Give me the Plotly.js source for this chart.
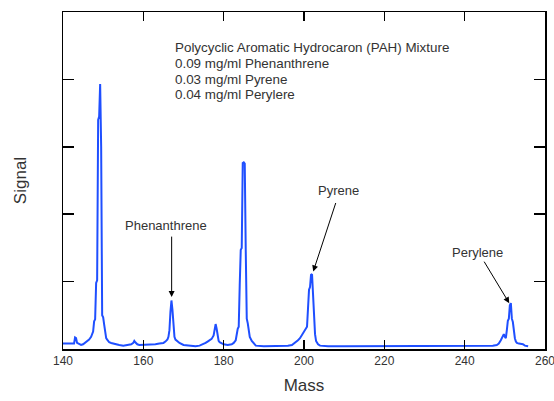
<!DOCTYPE html>
<html>
<head>
<meta charset="utf-8">
<script src="https://cdn.plot.ly/plotly-3.0.1.min.js"></script>
<style>html,body{margin:0;padding:0;background:#fff;}#chart{width:554px;height:401px;}</style>
</head>
<body>
<div id="chart"></div>
<script>
// Mass (x) values of the spectrum trace
const mass = [
140.0,141.0,142.0,142.75,143.0,143.25,143.5,144.0,144.5,145.0,145.5,146.0,146.5,147.0,147.5,147.75,148.0,148.25,148.5,148.75,
149.0,149.25,149.5,149.75,150.0,150.25,150.5,150.75,151.0,151.5,152.0,153.0,154.0,155.0,156.0,157.0,157.5,157.75,158.0,158.5,
159.0,160.0,161.0,162.0,163.0,164.0,165.0,165.5,166.0,166.25,166.5,166.75,167.0,167.25,167.5,167.75,168.0,168.5,169.0,170.0,
171.0,172.0,173.0,174.0,175.0,175.5,176.0,176.5,177.0,177.5,177.75,178.0,178.25,178.5,178.75,179.0,179.5,180.0,181.0,182.0,
182.5,183.0,183.5,183.75,184.0,184.25,184.5,184.75,185.0,185.25,185.5,185.75,186.0,186.25,186.5,187.0,187.5,188.0,190.0,192.0,
194.0,196.0,197.0,198.0,198.5,199.0,199.5,200.0,200.5,200.75,201.0,201.25,201.5,201.75,202.0,202.25,202.5,202.75,203.0,203.5,
204.0,206.0,210.0,215.0,220.0,225.0,230.0,235.0,240.0,244.0,247.0,248.0,248.5,249.0,249.25,249.5,249.75,250.0,250.25,250.5,
250.75,251.0,251.25,251.5,251.75,252.0,252.25,252.5,252.75,253.0,253.5,254.0,254.5,255.0,255.5,255.8
];
// Signal (y) values of the spectrum trace
const signal = [
0.08,0.08,0.07,0.08,0.17,0.16,0.09,0.07,0.06,0.07,0.09,0.12,0.14,0.18,0.26,0.41,0.44,0.98,1.02,3.40,
3.45,3.93,3.00,0.50,0.47,0.36,0.22,0.16,0.14,0.10,0.09,0.07,0.06,0.05,0.06,0.07,0.09,0.12,0.10,0.07,
0.06,0.06,0.07,0.07,0.07,0.08,0.09,0.11,0.14,0.18,0.28,0.55,0.72,0.58,0.28,0.18,0.14,0.11,0.09,0.06,
0.05,0.04,0.04,0.05,0.07,0.09,0.11,0.13,0.15,0.20,0.28,0.37,0.30,0.17,0.12,0.10,0.08,0.07,0.06,0.07,
0.09,0.13,0.30,0.33,0.95,1.47,1.50,2.76,2.77,2.75,1.45,0.45,0.38,0.25,0.18,0.12,0.08,0.05,0.04,0.04,
0.04,0.05,0.06,0.10,0.13,0.16,0.21,0.25,0.30,0.33,0.60,0.88,0.92,1.10,1.11,0.80,0.45,0.22,0.12,0.07,
0.05,0.04,0.04,0.04,0.04,0.04,0.04,0.04,0.04,0.04,0.05,0.06,0.08,0.13,0.16,0.20,0.22,0.18,0.16,0.28,
0.42,0.45,0.65,0.68,0.45,0.40,0.22,0.16,0.11,0.09,0.08,0.08,0.07,0.05,0.04,0.04
];
// Peak labels: text, arrow tip (mass, signal), label position (mass, signal)
const peakNames = ["Phenanthrene", "Pyrene", "Perylene"];
const peakTipMass = [167.05, 202.3, 251.1];
const peakTipSignal = [0.77, 1.15, 0.68];
const peakLabelMass = [165.6, 208.7, 243.1];
const peakLabelSignal = [1.83, 2.35, 1.43];
const arrowAx = [0, 23, -26];
const arrowAy = [-62, -70, -43];
// Info text block
const infoLines = [
  "Polycyclic Aromatic Hydrocaron (PAH) Mixture",
  "0.09 mg/ml Phenanthrene",
  "0.03 mg/ml Pyrene",
  "0.04 mg/ml Perylere"
];
const infoMass = 167.5;
const infoSignal = [4.475, 4.24, 4.0, 3.77];
const xTicks = [140, 160, 180, 200, 220, 240, 260];

const FONT = "Liberation Sans, Arial, Helvetica, sans-serif";
const TXT = "#333333";

const annotations = [];
for (let i = 0; i < peakNames.length; i++) {
  annotations.push({
    x: peakTipMass[i], y: peakTipSignal[i], xref: "x", yref: "y",
    text: "", showarrow: true, ax: arrowAx[i], ay: arrowAy[i],
    arrowhead: 2, arrowsize: 1.2, arrowwidth: 1, arrowcolor: "#000"
  });
  annotations.push({
    x: peakLabelMass[i], y: peakLabelSignal[i], xref: "x", yref: "y",
    text: peakNames[i], showarrow: false, xanchor: "center", yanchor: "middle",
    font: {family: FONT, size: 13, color: TXT}
  });
}
for (let i = 0; i < infoLines.length; i++) {
  annotations.push({
    x: infoMass, y: infoSignal[i], xref: "x", yref: "y",
    text: infoLines[i], showarrow: false, xanchor: "left", yanchor: "middle",
    font: {family: FONT, size: 13.4, color: TXT}
  });
}

const trace = {
  x: mass, y: signal, type: "scatter", mode: "lines",
  line: {color: "#1f4fff", width: 2},
  hoverinfo: "skip"
};

const layout = {
  width: 554, height: 401,
  margin: {l: 63, r: 9, t: 12, b: 52},
  paper_bgcolor: "#fff", plot_bgcolor: "#fff",
  showlegend: false,
  font: {family: FONT, color: TXT},
  xaxis: {
    range: [140, 260.001], tickvals: xTicks, ticktext: xTicks.map(String),
    ticks: "inside", ticklen: 9, tickwidth: 1.5, tickcolor: "#000",
    showline: true, linecolor: "#000", linewidth: 1.5, mirror: "ticks",
    showgrid: false, zeroline: false, ticklabeloverflow: "allow",
    tickfont: {family: FONT, size: 12, color: TXT},
    title: {text: "Mass", font: {family: FONT, size: 17, color: TXT}, standoff: 12}
  },
  yaxis: {
    range: [0, 5], dtick: 1, tick0: 0,
    ticks: "inside", ticklen: 11, tickwidth: 1.5, tickcolor: "#000",
    showline: true, linecolor: "#000", linewidth: 1.5, mirror: "ticks",
    showgrid: false, zeroline: false, showticklabels: false,
    title: {text: "Signal", font: {family: FONT, size: 17, color: TXT}, standoff: 30}
  },
  annotations: annotations
};

Plotly.newPlot("chart", [trace], layout, {displayModeBar: false, staticPlot: true});
</script>
</body>
</html>
